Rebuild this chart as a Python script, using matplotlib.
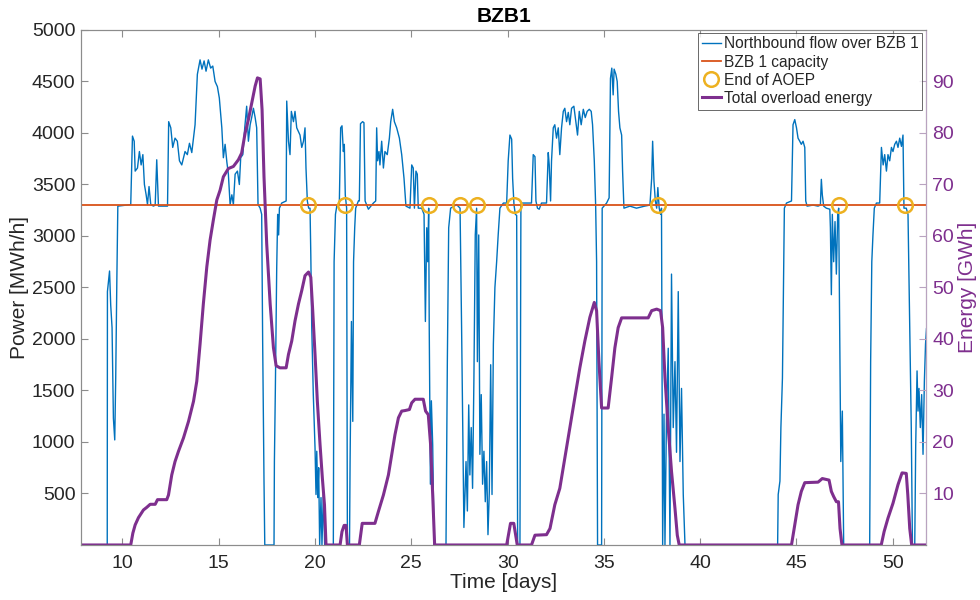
import matplotlib
matplotlib.use("Agg")
import matplotlib.pyplot as plt
from matplotlib.lines import Line2D

plt.rcParams['font.family'] = ['Liberation Sans', 'DejaVu Sans']

# ---------------- data ----------------
flow_t = [7.85, 9.21, 9.22, 9.33, 9.39, 9.46, 9.53, 9.60, 9.65, 9.71, 9.76, 10.43, 10.52, 10.61, 10.66,
          10.78, 10.88, 10.97, 11.06, 11.14, 11.23, 11.30, 11.38, 11.47, 11.61, 11.70, 11.78, 11.87, 12.34,
          12.40, 12.51, 12.61, 12.73, 12.85, 12.96, 13.08, 13.25, 13.37, 13.48, 13.60, 13.77, 13.89, 14.03,
          14.13, 14.24, 14.34, 14.46, 14.58, 14.69, 14.81, 14.93, 15.03, 15.16, 15.24, 15.33, 15.42, 15.50,
          15.59, 15.68, 15.76, 15.85, 15.97, 16.07, 16.14, 16.25, 16.35, 16.45, 16.54, 16.63, 16.71, 16.80,
          16.89, 16.97, 17.04, 17.15, 17.23, 17.28, 17.32, 17.35, 17.39, 17.87, 17.89, 17.94, 18.01, 18.06,
          18.11, 18.15, 18.27, 18.50, 18.53, 18.62, 18.70, 18.77, 18.88, 18.96, 19.05, 19.22, 19.31, 19.40,
          19.48, 19.53, 19.60, 19.67, 19.74, 19.78, 19.83, 19.91, 20.00, 20.05, 20.09, 20.14, 20.19, 20.24,
          20.31, 20.36, 20.43, 20.50, 20.95, 20.99, 21.06, 21.13, 21.26, 21.33, 21.40, 21.47, 21.52, 21.57,
          21.64, 21.68, 21.79, 21.82, 21.89, 21.96, 22.00, 22.06, 22.11, 22.25, 22.30, 22.36, 22.47, 22.54,
          22.60, 22.77, 23.03, 23.15, 23.20, 23.25, 23.32, 23.37, 23.46, 23.55, 23.63, 23.75, 23.86, 23.93,
          24.03, 24.12, 24.24, 24.38, 24.50, 24.62, 24.72, 24.93, 25.02, 25.10, 25.16, 25.24, 25.31, 25.36,
          25.54, 25.66, 25.73, 25.80, 25.85, 25.90, 25.93, 25.99, 26.04, 26.11, 26.18, 26.80, 26.87, 26.94,
          27.04, 27.35, 27.53, 27.61, 27.73, 27.84, 27.91, 27.98, 28.04, 28.11, 28.18, 28.25, 28.32, 28.39,
          28.43, 28.50, 28.56, 28.63, 28.70, 28.77, 28.84, 28.91, 28.98, 29.05, 29.12, 29.19, 29.26, 29.34,
          29.43, 29.51, 29.60, 29.78, 29.95, 30.03, 30.12, 30.21, 30.26, 30.33, 30.40, 30.47, 30.52, 30.64,
          30.69, 30.72, 31.24, 31.33, 31.42, 31.47, 31.55, 31.64, 31.76, 32.02, 32.11, 32.16, 32.23, 32.28,
          32.37, 32.45, 32.54, 32.63, 32.71, 32.80, 32.89, 32.97, 33.06, 33.15, 33.23, 33.32, 33.44, 33.54,
          33.63, 33.72, 33.82, 33.93, 34.03, 34.13, 34.24, 34.34, 34.41, 34.50, 34.57, 34.62, 34.67, 34.88,
          34.91, 35.14, 35.27, 35.34, 35.41, 35.48, 35.53, 35.62, 35.69, 35.76, 35.83, 35.92, 35.97, 36.04,
          36.35, 36.69, 37.12, 37.39, 37.48, 37.53, 37.60, 37.67, 37.74, 37.80, 37.87, 37.94, 37.99, 38.05,
          38.12, 38.17, 38.25, 38.34, 38.43, 38.51, 38.60, 38.69, 38.77, 38.86, 38.95, 39.03, 39.12, 39.21,
          44.02, 44.05, 44.14, 44.19, 44.27, 44.34, 44.37, 44.48, 44.74, 44.82, 44.91, 45.00, 45.08, 45.17,
          45.25, 45.34, 45.43, 45.48, 45.55, 45.86, 46.12, 46.24, 46.29, 46.34, 46.41, 46.55, 46.73, 46.76,
          46.81, 46.86, 46.93, 47.00, 47.07, 47.14, 47.19, 47.24, 47.30, 47.38, 47.45, 48.80, 48.85, 48.91,
          48.97, 49.04, 49.15, 49.32, 49.41, 49.50, 49.58, 49.67, 49.75, 49.84, 49.93, 50.01, 50.10, 50.19,
          50.27, 50.36, 50.45, 50.53, 50.58, 50.70, 50.79, 50.88, 50.96, 51.02, 51.14, 51.19, 51.26, 51.31,
          51.36, 51.43, 51.50, 51.57, 51.64, 51.70, 51.75]
flow_mw = [0, 0, 2460, 2660, 2330, 2110, 1230, 1020, 1620, 2590, 3290, 3305, 3970, 3920, 3630,
           3660, 3820, 3690, 3790, 3500, 3400, 3305, 3480, 3305, 3290, 3300, 3740, 3290, 3290,
           4110, 4050, 3860, 3950, 3920, 3730, 3690, 3820, 3790, 3900, 3810, 4080, 4570, 4710,
           4620, 4700, 4600, 4710, 4630, 4650, 4500, 4450, 4340, 4050, 3760, 3890, 3720, 3600,
           3305, 3400, 3305, 3600, 3630, 3500, 3760, 3790, 4050, 4260, 3920, 4080, 4150, 4240,
           4150, 4050, 3305, 3270, 3210, 1980, 1140, 620, 0, 0, 810, 1520, 2690, 3210,
           3010, 3270, 3320, 3340, 4310, 3920, 3790, 4210, 4110, 4210, 4050, 3980, 3860, 3920,
           4050, 3660, 3340, 3270, 3270, 2820, 2110, 1460, 940, 490, 910, 460, 750, 0,
           460, 0, 490, 0, 0, 2750, 3210, 3290, 3305, 4050, 4070, 3820, 3890, 3400,
           3270, 0, 0, 810, 2170, 1200, 2750, 3080, 3270, 3340, 3340, 4090, 4110, 4100,
           3340, 3260, 3320, 3340, 4050, 3730, 3820, 3690, 3920, 3660, 3820, 3790, 3950, 4110,
           4230, 4110, 4050, 3950, 3790, 3560, 3290, 3270, 3690, 3660, 3270, 3630, 3600, 3270,
           3270, 3210, 2170, 3080, 2750, 3270, 2110, 590, 1400, 970, 0, 0, 1780, 3080,
           3270, 3305, 3270, 2110, 170, 810, 330, 1360, 680, 1140, 550, 1620, 3010, 3270,
           1780, 3010, 880, 1460, 590, 910, 420, 810, 100, 520, 1750, 490, 1950, 2500,
           2750, 3010, 3270, 3320, 3320, 3730, 3980, 3940, 3560, 3305, 3210, 3200, 0, 0,
           3300, 3320, 3320, 3790, 3770, 3340, 3270, 3260, 3320, 3320, 3810, 3690, 3340, 3730,
           4050, 4080, 3950, 4050, 3790, 4050, 4210, 4240, 4110, 4200, 4080, 4240, 4260, 4110,
           3980, 4210, 4080, 4230, 4150, 4210, 4230, 4210, 4080, 3730, 3305, 2750, 0, 0,
           3270, 3320, 3370, 4530, 4630, 4370, 4620, 4570, 4500, 4210, 4050, 3980, 3630, 3270,
           3290, 3270, 3290, 3300, 3560, 3920, 3530, 3340, 3270, 3470, 3270, 3210, 3270, 0,
           1270, 0, 1270, 1910, 0, 2630, 1140, 1780, 900, 2460, 810, 1520, 490, 0,
           0, 490, 620, 1140, 1620, 2750, 3270, 3320, 3340, 4080, 4130, 4050, 3950, 3920,
           3890, 3920, 3860, 3340, 3290, 3300, 3290, 3300, 3550, 3400, 3290, 3270, 3260, 3080,
           2430, 3210, 2750, 3140, 2630, 3210, 3270, 2110, 810, 1300, 0, 0, 1780, 2750,
           3010, 3270, 3320, 3320, 3860, 3690, 3790, 3630, 3790, 3730, 3860, 3820, 3890, 3920,
           3860, 3950, 3870, 3980, 3270, 3270, 3210, 2110, 1140, 0, 0, 970, 1690, 1300,
           1520, 1140, 1460, 880, 1590, 1950, 2100]

capacity_mw = 3300

aoep_t = [19.62, 21.56, 25.92, 27.53, 28.42, 30.33, 37.81, 47.19, 50.65]

energy_t = [7.85, 10.43, 10.54, 10.66, 10.83, 11.09, 11.26, 11.44, 11.70, 11.82, 12.30, 12.39, 12.56,
            12.73, 12.91, 13.17, 13.43, 13.69, 13.86, 14.03, 14.20, 14.38, 14.55, 14.72, 14.90, 15.07,
            15.24, 15.50, 15.76, 16.02, 16.19, 16.37, 16.54, 16.71, 16.89, 17.01, 17.15, 17.25, 17.35,
            17.49, 17.67, 17.84, 17.98, 18.18, 18.50, 18.62, 18.79, 18.96, 19.14, 19.31, 19.48, 19.66,
            19.78, 19.88, 20.00, 20.12, 20.26, 20.38, 20.49, 20.57, 21.30, 21.40, 21.51, 21.61, 21.68,
            22.30, 22.45, 22.60, 23.11, 23.29, 23.55, 23.81, 23.98, 24.15, 24.33, 24.50, 24.67, 24.90,
            25.02, 25.19, 25.62, 25.74, 25.88, 26.00, 26.11, 26.21, 29.95, 30.15, 30.32, 30.50, 31.24,
            31.42, 32.02, 32.20, 32.45, 32.71, 32.97, 33.23, 33.49, 33.75, 34.01, 34.27, 34.50, 34.62,
            34.74, 34.88, 35.22, 35.40, 35.57, 35.74, 35.92, 37.30, 37.48, 37.74, 37.94, 38.05, 38.17,
            38.34, 38.51, 38.69, 38.81, 38.91, 44.74, 44.91, 45.08, 45.25, 45.43, 46.12, 46.34, 46.69,
            46.81, 46.93, 47.07, 47.18, 47.26, 47.36, 49.40, 49.55, 49.75, 50.01, 50.27, 50.48, 50.70,
            50.78, 50.88, 50.98, 51.75]
energy_gwh = [0, 0, 2.3, 3.9, 5.3, 6.8, 7.3, 7.9, 7.9, 8.8, 8.8, 9.7, 13.6,
              16.2, 18.2, 20.8, 24.0, 27.9, 31.8, 39.0, 46.8, 54.0, 59.2, 63.1, 67.0, 68.9,
              71.5, 73.1, 73.5, 74.8, 76.1, 80.0, 82.6, 85.8, 89.1, 90.7, 90.5, 84.5, 71.5,
              58.5, 46.8, 38.3, 34.8, 34.4, 34.4, 37.0, 39.6, 43.5, 46.8, 49.4, 52.3, 53.0,
              52.0, 45.5, 37.0, 27.9, 19.5, 13.0, 7.8, 0, 0, 2.6, 3.8, 3.8, 0,
              0, 4.2, 4.2, 4.2, 6.5, 9.7, 13.6, 17.5, 21.4, 24.7, 26.0, 26.1, 26.3,
              27.6, 28.3, 28.3, 26.0, 25.3, 19.5, 9.7, 0, 0, 4.2, 4.2, 0, 0,
              1.9, 2.0, 3.2, 7.8, 11.0, 16.9, 22.7, 28.6, 34.4, 39.6, 44.2, 47.1, 45.5,
              35.7, 26.6, 26.6, 32.5, 38.3, 42.2, 44.1, 44.1, 45.5, 45.8, 45.5, 42.2, 32.5,
              22.7, 14.3, 7.1, 1.9, 0, 0, 3.9, 7.8, 10.4, 12.1, 12.2, 12.9, 12.6,
              10.4, 9.4, 8.4, 8.4, 3.2, 0, 0, 2.6, 5.2, 8.1, 11.7, 14.0, 13.9,
              9.7, 3.2, 0, 0]

x_ticks = [10, 15, 20, 25, 30, 35, 40, 45, 50]
power_ticks = [500, 1000, 1500, 2000, 2500, 3000, 3500, 4000, 4500, 5000]
energy_ticks = [10, 20, 30, 40, 50, 60, 70, 80, 90]

# ---------------- style ----------------
BLUE = '#0072BD'
ORANGE = '#D95319'
YELLOW = '#EDB120'
PURPLE = '#7E2F8E'
SPINE = '#8c8c8c'
TXT = '#262626'

fig = plt.figure(figsize=(9.8, 6.0), dpi=100)
ax = fig.add_axes([0.0827, 0.0917, 0.8627, 0.8583])
ax2 = ax.twinx()

xlim = (7.85, 51.75)
ax.plot(flow_t, flow_mw, color=BLUE, lw=1.0, zorder=2)
ax.plot([xlim[0], xlim[1]], [capacity_mw, capacity_mw], color=ORANGE, lw=1.3, zorder=3)
ax.plot(aoep_t, [capacity_mw] * len(aoep_t), ls='none', marker='o', ms=10.5, mfc='none',
        mec=YELLOW, mew=1.8, zorder=4)
ax2.plot(energy_t, energy_gwh, color=PURPLE, lw=2.2, zorder=2)

ax.set_xlim(*xlim)
ax.set_ylim(0, 5000)
ax2.set_ylim(0, 100)
ax.set_xticks(x_ticks)
ax.set_yticks(power_ticks)
ax2.set_yticks(energy_ticks)

for a in (ax, ax2):
    for s in a.spines.values():
        s.set_linewidth(0.8)
        s.set_color(SPINE)
ax2.spines['right'].set_color('#b9a3c0')

ax.tick_params(axis='both', direction='in', length=5, width=0.8, colors=SPINE,
               labelcolor=TXT, labelsize=14, top=True)
ax.tick_params(axis='x', pad=7)
ax.tick_params(axis='y', pad=4)
ax2.tick_params(axis='y', direction='in', length=5, width=0.8, colors='#b9a3c0',
                labelcolor=PURPLE, labelsize=14, pad=4)

ax.set_xlabel('Time [days]', fontsize=15, color=TXT, labelpad=1)
ax.set_ylabel('Power [MWh/h]', fontsize=15, color=TXT)
ax2.set_ylabel('Energy [GWh]', fontsize=15, color=PURPLE)
ax.yaxis.set_label_coords(-0.061, 0.5)
ax2.yaxis.set_label_coords(1.037, 0.5)
ax.set_title('BZB1', fontsize=15, fontweight='bold', color='black', pad=6)

handles = [
    Line2D([], [], color=BLUE, lw=1.0),
    Line2D([], [], color=ORANGE, lw=1.3),
    Line2D([], [], ls='none', marker='o', ms=10.5, mfc='none', mec=YELLOW, mew=1.8),
    Line2D([], [], color=PURPLE, lw=2.2),
]
labels = ['Northbound flow over BZB 1', 'BZB 1 capacity', 'End of AOEP', 'Total overload energy']
leg = ax2.legend(handles, labels, loc='upper right', bbox_to_anchor=(0.995, 0.995),
                 borderaxespad=0, fontsize=11.2, frameon=True, fancybox=False,
                 handlelength=1.2, handletextpad=0.2, borderpad=0.25, labelspacing=0.2)
leg.get_frame().set_edgecolor('#262626')
leg.get_frame().set_linewidth(0.6)
for t in leg.get_texts():
    t.set_color(TXT)

fig.savefig('out.png', dpi=100)
